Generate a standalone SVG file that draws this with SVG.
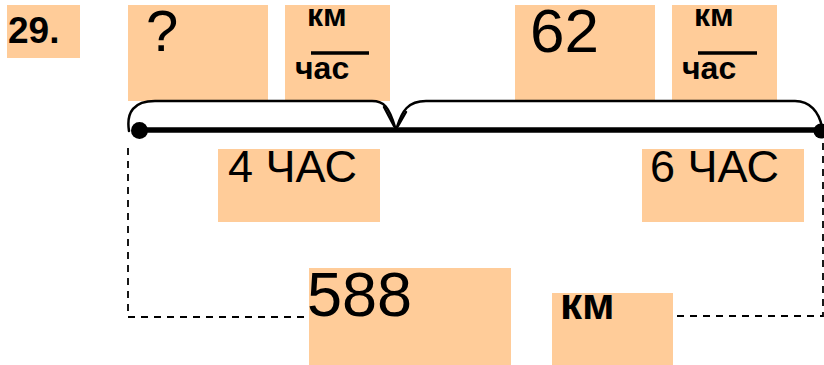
<svg xmlns="http://www.w3.org/2000/svg" width="824" height="365" viewBox="0 0 824 365">
<style>
.box{fill:#FFCC99}
.t{font-family:"Liberation Sans",Arial,sans-serif;fill:#000}
.b{font-weight:bold}
.brace{fill:none;stroke:#000;stroke-width:2.5;stroke-linecap:round}
.dash{fill:none;stroke:#000;stroke-width:1.8;stroke-dasharray:7,6}
</style>
<rect width="824" height="365" fill="#fff"/>
<g id="n29"><rect class="box" x="7" y="5" width="73" height="53"/><text class="t b" x="8" y="43" font-size="37">29.</text></g>
<g id="nQ"><rect class="box" x="128" y="5" width="140" height="96"/><text class="t" x="146" y="51" font-size="58">?</text></g>
<g id="nU1"><rect class="box" x="285" y="5" width="105" height="96"/><text class="t b" x="307" y="26" font-size="32">км</text><line x1="311" y1="53" x2="369" y2="53" stroke="#000" stroke-width="3.5"/><text class="t b" x="295" y="79" font-size="32">час</text></g>
<g id="n62"><rect class="box" x="515" y="5" width="140" height="96"/><text class="t" x="530" y="52" font-size="62">62</text></g>
<g id="nU2"><rect class="box" x="672" y="5" width="105" height="96"/><text class="t b" x="694" y="26" font-size="32">км</text><line x1="698" y1="53" x2="757" y2="53" stroke="#000" stroke-width="3.5"/><text class="t b" x="682" y="79" font-size="32">час</text></g>
<g id="n4h"><rect class="box" x="218" y="149" width="162" height="73"/><text class="t" x="228" y="182" font-size="45">4 ЧАС</text></g>
<g id="n6h"><rect class="box" x="642" y="149" width="162" height="73"/><text class="t" x="650" y="182" font-size="45">6 ЧАС</text></g>
<g id="n588"><rect class="box" x="309" y="268" width="202" height="97"/><text class="t" x="307" y="316" font-size="63">588</text></g>
<g id="nkm"><rect class="box" x="552" y="293" width="121" height="72"/><text class="t b" x="560" y="319" font-size="44">км</text></g>
<g id="connectors">
<line x1="140" y1="130" x2="824" y2="130" stroke="#000" stroke-width="5.5"/>
<circle cx="139.5" cy="130.5" r="8.5" fill="#000"/>
<circle cx="821" cy="131" r="7.5" fill="#000"/>
<path class="brace" d="M129,131 C126,112 134,101 155,101 L372,101 C384,101 389,107 395,127"/>
<path class="brace" d="M384,107 L394,126"/>
<path class="brace" d="M397,127 C402,111 408,101 426,101 L795,101 C810,101 819,112 822,127"/>
<path class="brace" d="M398,126 L406,112"/>
<path class="dash" d="M128,148 L128,317 L304,317"/>
<path class="dash" d="M677,316 L823,316 L823,140"/>
</g>
</svg>
